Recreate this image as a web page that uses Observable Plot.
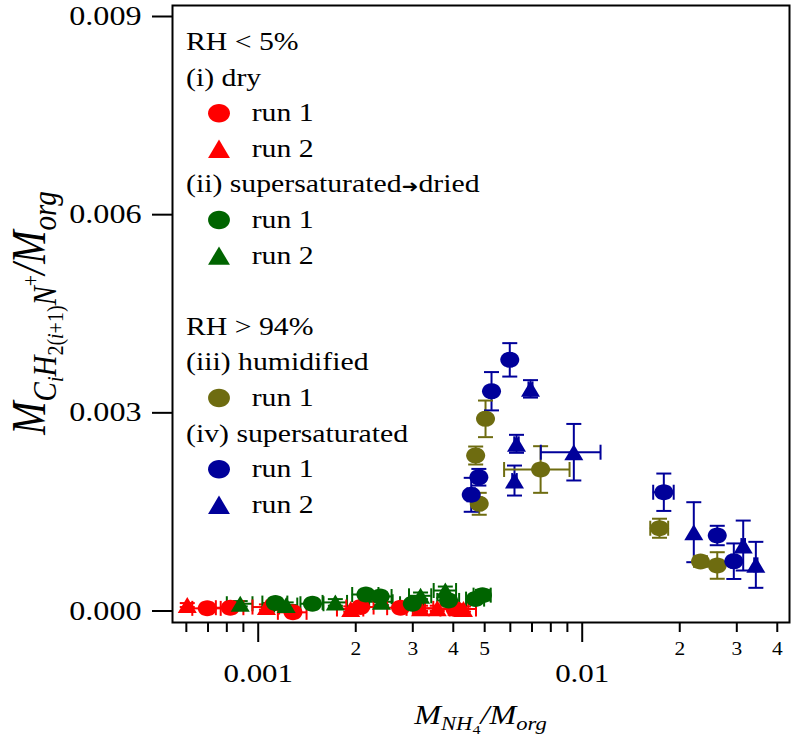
<!DOCTYPE html>
<html><head><meta charset="utf-8">
<script src="https://cdn.jsdelivr.net/npm/d3@7"></script>
<script src="https://cdn.jsdelivr.net/npm/@observablehq/plot@0.6"></script>
<style>html,body{margin:0;padding:0;background:#fff}</style>
</head><body><div id="chart"></div>
<script>
// ---------------- data ----------------
const xTicksMajor = [0.001, 0.01];
const xTicksMinor = [0.0006,0.0007,0.0008,0.0009,0.002,0.003,0.004,0.005,0.006,0.007,0.008,0.009,0.02,0.03,0.04];
const yTicks = [0, 0.003, 0.006, 0.009];

// (i) dry, run 1 (circles)
const dry1X    = [0.000696, 0.00082, 0.00128, 0.00207, 0.00275, 0.00405];
const dry1Y    = [0.00004, 0.00005, -0.00002, 0.00006, 0.00005, 0.00003];
const dry1Yerr = [0.00003, 0.00005, 0.00004, 0.00005, 0.00004, 0.00004];
const dry1Xerr = [0.00007, 0.00008, 0.00013, 0.0002, 0.00025, 0.0004];
// (i) dry, run 2 (triangles)
const dry2X    = [0.000604, 0.00106, 0.00193, 0.00317, 0.00357, 0.0043];
const dry2Y    = [0.00009, 0.00006, 0.00003, 0.00004, 0.00004, 0.00003];
const dry2Yerr = [0.00003, 0.00004, 0.00004, 0.00004, 0.00004, 0.00004];
const dry2Xerr = [0, 0.0001, 0.00018, 0.0003, 0.0003, 0.0004];
// (ii) supersaturated -> dried, run 1
const sd1X    = [0.00113, 0.00147, 0.00215, 0.00238, 0.00299, 0.00387, 0.00468, 0.00492];
const sd1Y    = [0.00012, 0.00011, 0.00025, 0.00022, 0.00011, 0.00016, 0.00018, 0.00024];
const sd1Yerr = [0.00005, 0.00004, 0.00006, 0.00006, 0.00005, 0.00007, 0.00006, 0.00008];
const sd1Xerr = [0.0001, 0.00012, 0.0002, 0.0002, 0.00025, 0.0003, 0.0003, 0.0003];
// (ii) supersaturated -> dried, run 2
const sd2X    = [0.00088, 0.00122, 0.00173, 0.0024, 0.00317, 0.00378];
const sd2Y    = [0.00011, 0.00009, 0.00013, 0.00014, 0.00023, 0.00031];
const sd2Yerr = [0.00004, 0.00004, 0.00005, 0.00005, 0.00005, 0.00006];
const sd2Xerr = [0.00008, 0.0001, 0.00015, 0.0002, 0.00025, 0.0003];
// (iii) humidified, run 1
const hum1X    = [0.00503, 0.00469, 0.00744, 0.00481, 0.01732, 0.02318, 0.02611];
const hum1Y    = [0.002909, 0.002354, 0.002142, 0.001623, 0.001253, 0.000749, 0.000689];
const hum1Yerr = [0.000277, 0.000136, 0.000353, 0.000166, 0.000144, 0.00008, 0.000201];
const hum1Xerr = [0.0001, 0.0001, 0.0017, 0.0001, 0.0011, 0, 0];
// (iv) supersaturated, run 1
const sup1X    = [0.005976, 0.005249, 0.004797, 0.004544, 0.01786, 0.02611, 0.02937];
const sup1Y    = [0.003802, 0.003327, 0.002025, 0.001759, 0.001798, 0.001143, 0.000754];
const sup1Yerr = [0.000253, 0.00029, 0.000126, 0.000257, 0.000283, 0.000147, 0.000269];
const sup1Xerr = [0.0001, 0.0001, 0.0001, 0.00012, 0.0013, 0.0004, 0.0006];
// (iv) supersaturated, run 2
const sup2X    = [0.006925, 0.006269, 0.009421, 0.00618, 0.0221, 0.0314, 0.03435];
const sup2Y    = [0.003363, 0.002531, 0.002404, 0.001975, 0.001193, 0.000991, 0.000699];
const sup2Yerr = [0.000132, 0.000136, 0.000428, 0.000227, 0.000454, 0.000378, 0.000348];
const sup2Xerr = [0.0001, 0.0001, 0.00197, 0.0001, 0, 0.0004, 0.0004];

const RED = "#ff0000", GREEN = "#006400", OLIVE = "#6e6c10", BLUE = "#00009a";

const legendText  = ["RH < 5%", "(i) dry", "run 1", "run 2", "(ii) supersaturated|dried", "run 1", "run 2", "",
                     "RH > 94%", "(iii) humidified", "run 1", "(iv) supersaturated", "run 1", "run 2"];
const legendColor = [null, null, RED, RED, null, GREEN, GREEN, null, null, null, OLIVE, null, BLUE, BLUE];
const legendShape = [null, null, "o", "^", null, "o", "^", null, null, null, "o", null, "o", "^"];

// ---------------- symbols ----------------
const STR = 1.19; // horizontal stretch of the reference figure
const K = 0.5523;
const ellipseSym = {draw(ctx, size) {
  const r = Math.sqrt(size / Math.PI), rx = r * STR, ry = r;
  ctx.moveTo(rx, 0);
  ctx.bezierCurveTo(rx, ry*K, rx*K, ry, 0, ry);
  ctx.bezierCurveTo(-rx*K, ry, -rx, ry*K, -rx, 0);
  ctx.bezierCurveTo(-rx, -ry*K, -rx*K, -ry, 0, -ry);
  ctx.bezierCurveTo(rx*K, -ry, rx, -ry*K, rx, 0);
  ctx.closePath();
}};
const triSym = {draw(ctx, size) {
  const r = Math.sqrt(size / Math.PI);
  ctx.moveTo(0, -r); ctx.lineTo(r*STR, r); ctx.lineTo(-r*STR, r); ctx.closePath();
}};
const hCap = {draw(ctx, size) { const r = Math.sqrt(size / Math.PI); ctx.moveTo(-r, 0); ctx.lineTo(r, 0); }};
const vCap = {draw(ctx, size) { const r = Math.sqrt(size / Math.PI); ctx.moveTo(0, -r); ctx.lineTo(0, r); }};

function series(xs, ys, yerr, xerr, color, shape) {
  return xs.map((x, i) => ({x, y: ys[i], ye: yerr[i], xe: xerr[i], color, shape}));
}
const all = [
  ...series(dry1X, dry1Y, dry1Yerr, dry1Xerr, RED, "o"),
  ...series(dry2X, dry2Y, dry2Yerr, dry2Xerr, RED, "^"),
  ...series(sd1X, sd1Y, sd1Yerr, sd1Xerr, GREEN, "o"),
  ...series(sd2X, sd2Y, sd2Yerr, sd2Xerr, GREEN, "^"),
  ...series(hum1X, hum1Y, hum1Yerr, hum1Xerr, OLIVE, "o"),
  ...series(sup1X, sup1Y, sup1Yerr, sup1Xerr, BLUE, "o"),
  ...series(sup2X, sup2Y, sup2Yerr, sup2Xerr, BLUE, "^"),
];
const withYe = all.filter(d => d.ye > 0);
const withXe = all.filter(d => d.xe > 0);

const FONT = "'Liberation Serif', 'Times New Roman', Times, serif";
const minorFmt = d => { const m = Math.round(d / Math.pow(10, Math.floor(Math.log10(d) + 1e-9))); return m === 9 ? "" : String(m); };

const marks = [
  Plot.axisY({ticks: yTicks, tickFormat: d3.format(".3f"), tickSize: 20, tickPadding: 11, fontSize: 27, strokeWidth: 2, label: null}),
  Plot.axisX({ticks: xTicksMajor, tickFormat: d => d === 0.001 ? "0.001" : "0.01", tickSize: 20, tickPadding: 21, fontSize: 26, strokeWidth: 2, label: null}),
  Plot.axisX({ticks: xTicksMinor, tickFormat: minorFmt, tickSize: 10, tickPadding: 10, fontSize: 18, strokeWidth: 2, label: null}),
  // error bars
  Plot.ruleX(withYe, {x: "x", y1: d => d.y - d.ye, y2: d => d.y + d.ye, stroke: "color", strokeWidth: 2}),
  Plot.ruleY(withXe, {y: "y", x1: d => d.x - d.xe, x2: d => d.x + d.xe, stroke: "color", strokeWidth: 2}),
  Plot.dot(withYe, {x: "x", y: d => d.y + d.ye, symbol: hCap, r: 7.5, stroke: "color", strokeWidth: 2, fill: "none"}),
  Plot.dot(withYe, {x: "x", y: d => d.y - d.ye, symbol: hCap, r: 7.5, stroke: "color", strokeWidth: 2, fill: "none"}),
  Plot.dot(withXe, {x: d => d.x + d.xe, y: "y", symbol: vCap, r: 7.5, stroke: "color", strokeWidth: 2, fill: "none"}),
  Plot.dot(withXe, {x: d => d.x - d.xe, y: "y", symbol: vCap, r: 7.5, stroke: "color", strokeWidth: 2, fill: "none"}),
  // markers
  Plot.dot(all, {x: "x", y: "y", symbol: d => d.shape === "o" ? ellipseSym : triSym, r: 8, fill: "color", stroke: "none"}),
  Plot.frame({stroke: "black", strokeWidth: 2})
];

const chart = Plot.plot({
  width: 796, height: 744,
  marginLeft: 172, marginRight: 7, marginTop: 5, marginBottom: 122,
  x: {type: "log", domain: [0.0005438, 0.04363]},
  y: {domain: [-0.000174, 0.0091665]},
  color: {type: "identity"},
  symbol: {type: "identity"},
  style: {fontFamily: FONT, color: "black", background: "white", overflow: "visible"},
  marks
});

// stretch tick-label text horizontally (reference figure is stretched)
d3.select(chart).selectAll("text").each(function() {
  const t = d3.select(this);
  const x = parseFloat(t.attr("x")) || 0;
  const tr = t.attr("transform") || "";
  t.attr("transform", `${tr} translate(${x},0) scale(${STR},1) translate(${-x},0)`);
});

const svg = d3.select(chart);

// legend
const legend = svg.append("g").attr("font-family", FONT).attr("font-size", 25).attr("fill", "black").attr("text-anchor", "start");
legendText.forEach((txt, i) => {
  if (!txt) return;
  const base = 50 + i * 35.6;
  const isItem = legendColor[i] !== null;
  const tx = isItem ? 251.7 : 186;
  const t = legend.append("text").attr("text-anchor", "start").attr("transform", `translate(${tx},${base}) scale(${STR},1)`);
  if (txt.includes("|")) {
    const [a, b] = txt.split("|");
    t.append("tspan").text(a);
    t.append("tspan").attr("font-family", "DejaVu Sans").attr("font-size", 17).text("\u279C");
    t.append("tspan").text(b);
  } else t.text(txt);
  if (isItem) {
    const sym = legendShape[i] === "o" ? ellipseSym : triSym;
    legend.append("path")
      .attr("transform", `translate(219,${base - 8})`)
      .attr("d", d3.symbol(sym, Math.PI * 9.2 * 9.2)())
      .attr("fill", legendColor[i]);
  }
});

// x axis label
const xl = svg.append("text").attr("font-family", FONT).attr("font-style", "italic").attr("fill", "black")
  .attr("text-anchor", "middle").attr("transform", `translate(480.5,724) scale(${STR},1)`);
xl.append("tspan").attr("font-size", 27).text("M");
xl.append("tspan").attr("font-size", 19).attr("dy", 6).text("NH");
xl.append("tspan").attr("font-size", 13.5).attr("font-style", "normal").attr("dy", 4).text("4");
xl.append("tspan").attr("font-size", 27).attr("dy", -10).text("/M");
xl.append("tspan").attr("font-size", 19).attr("dy", 6).text("org");

// y axis label
const yl = svg.append("text").attr("font-family", FONT).attr("font-style", "italic").attr("fill", "black")
  .attr("text-anchor", "middle").attr("transform", `translate(45,313) scale(${STR},1) rotate(-90)`);
yl.append("tspan").attr("font-size", 40).text("M");
yl.append("tspan").attr("font-size", 29).attr("dy", 9).text("C");
yl.append("tspan").attr("font-size", 20).attr("dy", 6).text("i");
yl.append("tspan").attr("font-size", 29).attr("dy", -6).text("H");
yl.append("tspan").attr("font-size", 20).attr("font-style", "normal").attr("dy", 6).text("2(");
yl.append("tspan").attr("font-size", 20).text("i");
yl.append("tspan").attr("font-size", 20).attr("font-style", "normal").text("+1)");
yl.append("tspan").attr("font-size", 29).attr("dy", -6).text("N");
yl.append("tspan").attr("font-size", 20).attr("font-style", "normal").attr("dy", -15).text("+");
yl.append("tspan").attr("font-size", 40).attr("dy", 6).text("/M");
yl.append("tspan").attr("font-size", 29).attr("dy", 9).text("org");

document.getElementById("chart").appendChild(chart);
</script>
</body></html>
